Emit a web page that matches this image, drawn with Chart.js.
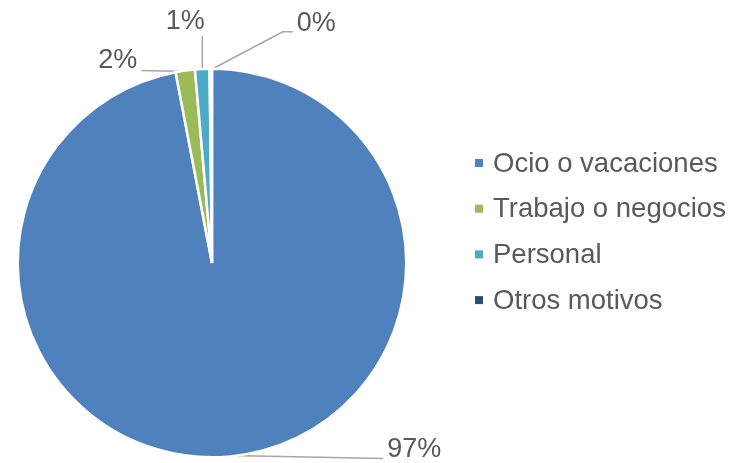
<!DOCTYPE html>
<html>
<head>
<meta charset="utf-8">
<script src="https://cdn.jsdelivr.net/npm/chart.js@4/dist/chart.umd.min.js"></script>
<style>
  html, body { margin: 0; padding: 0; background: #ffffff; }
  #wrap { width: 748px; height: 463px; position: relative; }
</style>
</head>
<body>
<div id="wrap"><canvas id="c" width="748" height="463"></canvas></div>
<script>
// ---- data ----
const categories = ['Ocio o vacaciones', 'Trabajo o negocios', 'Personal', 'Otros motivos'];
const values = [97.0, 1.6, 1.2, 0.2];
const valueLabels = ['97%', '2%', '1%', '0%'];
const colors = ['#4F81BD', '#9BBB59', '#4BACC6', '#2C4D75'];

const FONT = '"Liberation Sans", Arial, sans-serif';
const TEXT_COLOR = '#595959';
const LEADER_COLOR = '#A6A6A6';

// leader-line geometry, relative to each slice's outer mid-point
const leaderLayout = [
  { pts: [[153, 3]], text: [4, -9], align: 'left' },
  { pts: [[-44, -1]], text: [-4, -10], align: 'right' },
  { pts: [[0, -34]], text: [-17, -14.5], align: 'center' },
  { pts: [[72, -38], [82, -38]], text: [4, -8.5], align: 'left' }
];

function anchorOf(arc) {
  const p = arc.getProps(['x', 'y', 'startAngle', 'endAngle', 'outerRadius'], true);
  const mid = (p.startAngle + p.endAngle) / 2;
  return [p.x + Math.cos(mid) * (p.outerRadius - 1), p.y + Math.sin(mid) * (p.outerRadius - 1)];
}

const labelPlugin = {
  id: 'excelLabels',
  beforeDatasetsDraw(chart) {
    const ctx = chart.ctx;
    const meta = chart.getDatasetMeta(0);
    ctx.save();
    ctx.strokeStyle = LEADER_COLOR;
    ctx.lineWidth = 1.5;
    meta.data.forEach((arc, i) => {
      const [ax, ay] = anchorOf(arc);
      const L = leaderLayout[i];
      ctx.beginPath();
      ctx.moveTo(ax, ay);
      L.pts.forEach(d => ctx.lineTo(ax + d[0], ay + d[1]));
      ctx.stroke();
    });
    ctx.restore();
  },
  afterDatasetsDraw(chart) {
    const ctx = chart.ctx;
    const meta = chart.getDatasetMeta(0);
    ctx.save();
    ctx.fillStyle = TEXT_COLOR;
    ctx.font = '27px ' + FONT;
    ctx.textBaseline = 'middle';
    meta.data.forEach((arc, i) => {
      const [ax, ay] = anchorOf(arc);
      const L = leaderLayout[i];
      const end = L.pts[L.pts.length - 1];
      ctx.textAlign = L.align;
      ctx.fillText(valueLabels[i], ax + end[0] + L.text[0], ay + end[1] + L.text[1]);
    });
    // legend
    const lx = 475, ly = 163, step = 45.7;
    ctx.font = '27.5px ' + FONT;
    ctx.textAlign = 'left';
    chart.data.labels.forEach((lab, i) => {
      const y = ly + i * step;
      ctx.fillStyle = chart.data.datasets[0].backgroundColor[i];
      ctx.fillRect(lx, y - 4, 8, 8);
      ctx.fillStyle = TEXT_COLOR;
      ctx.fillText(lab, lx + 18, y + 1);
    });
    ctx.restore();
  }
};

new Chart(document.getElementById('c'), {
  type: 'pie',
  data: {
    labels: categories,
    datasets: [{
      data: values,
      backgroundColor: colors,
      borderColor: '#ffffff',
      borderWidth: 2.5,
      hoverOffset: 0
    }]
  },
  options: {
    responsive: false,
    animation: false,
    layout: { padding: { left: 16.5, right: 340.5, top: 67.5, bottom: 4.5 } },
    plugins: {
      legend: { display: false },
      tooltip: { enabled: false }
    }
  },
  plugins: [labelPlugin]
});
</script>
</body>
</html>
